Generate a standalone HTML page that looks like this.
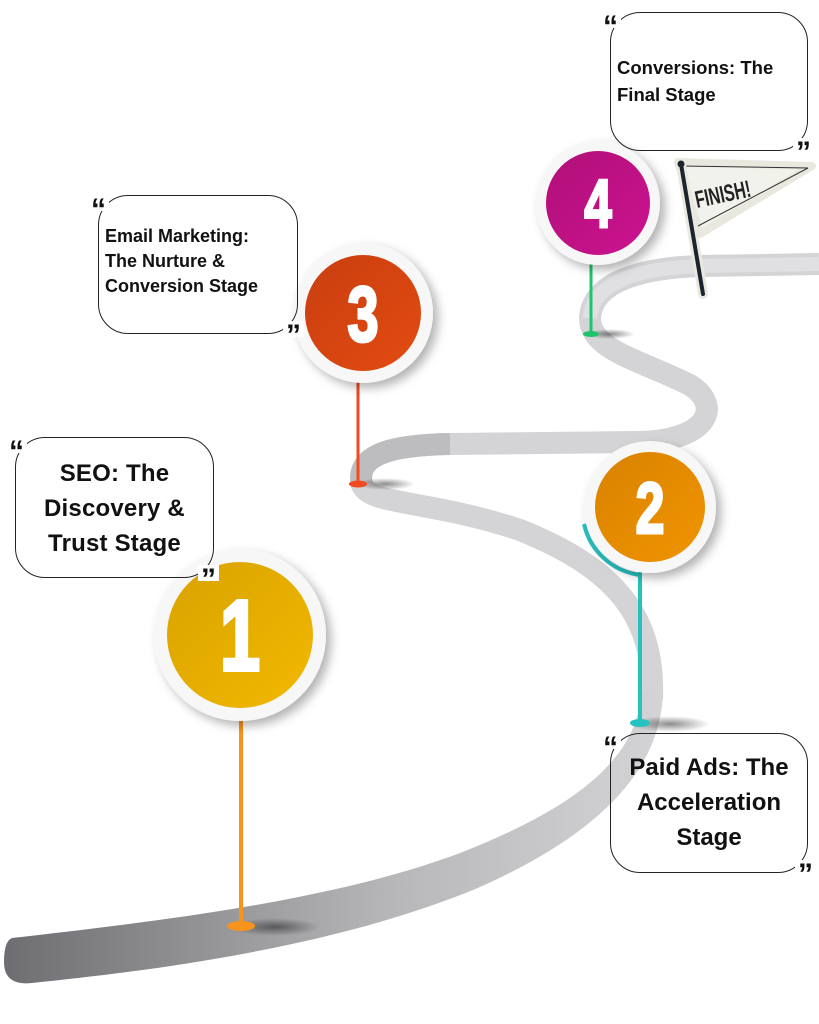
<!DOCTYPE html>
<html><head><meta charset="utf-8"><style>
html,body{margin:0;padding:0;background:#fff;}
body{width:819px;height:1024px;overflow:hidden;position:relative;font-family:"Liberation Sans",sans-serif;}
.box{position:absolute;border:1.6px solid #222;border-radius:30px;box-sizing:border-box;text-align:center;font-weight:bold;color:#111;}
.q{position:absolute;font-family:"Liberation Sans",sans-serif;font-weight:bold;font-size:30px;line-height:30px;height:16px;overflow:visible;background:#fff;color:#111;padding:0 3px;}
</style></head><body>
<svg width="819" height="1024" style="position:absolute;left:0;top:0">
<defs>
<linearGradient id="rg" x1="0" y1="0" x2="1" y2="0">
<stop offset="0" stop-color="#6e6e72"/><stop offset="0.6" stop-color="#b8b8ba"/><stop offset="1" stop-color="#d4d4d6"/></linearGradient>
<radialGradient id="sh"><stop offset="0" stop-color="#000" stop-opacity="0.45"/><stop offset="1" stop-color="#000" stop-opacity="0"/></radialGradient>
<filter id="ds" x="-30%" y="-30%" width="160%" height="160%"><feDropShadow dx="5" dy="5" stdDeviation="5" flood-opacity="0.3"/></filter>
<linearGradient id="g1" x1="0" y1="0" x2="1" y2="1"><stop offset="0" stop-color="#d9a300"/><stop offset="1" stop-color="#f2b800"/></linearGradient>
<linearGradient id="g2" x1="0" y1="0" x2="1" y2="1"><stop offset="0" stop-color="#d98200"/><stop offset="1" stop-color="#f09400"/></linearGradient>
<linearGradient id="g3" x1="0" y1="0" x2="1" y2="1"><stop offset="0" stop-color="#c93e10"/><stop offset="1" stop-color="#e24c10"/></linearGradient>
<linearGradient id="g4" x1="0" y1="0" x2="1" y2="1"><stop offset="0" stop-color="#b00f78"/><stop offset="1" stop-color="#cc1390"/></linearGradient>
</defs>
<path d="M652,700 C655,620 620,570 520,530 C430,500 370,505 362,485 C355,455 390,445 450,444 L640,442 C710,440 722,405 690,385 C640,360 590,350 590,318 C592,282 640,268 700,266 L819,264" stroke="#d4d4d6" stroke-width="22" fill="none"/>
<path d="M590,318 C592,282 640,268 700,266 L819,264" stroke="#e0e0e2" stroke-width="14" fill="none"/>
<path d="M362,485 C355,455 390,445 450,444" stroke="#bdbdbf" stroke-width="22" fill="none"/>
<path d="M12,938 C150,922 330,902 460,853 C570,810 640,760 641,690 L663,690 C662,775 590,838 480,887 C340,946 160,970 32,983 Q4,986 4,962 Q4,941 12,938 Z" fill="url(#rg)"/>
<ellipse cx="275" cy="927" rx="45" ry="9" fill="url(#sh)"/>
<ellipse cx="670" cy="724" rx="40" ry="8" fill="url(#sh)"/>
<ellipse cx="385" cy="484" rx="30" ry="6" fill="url(#sh)"/>
<ellipse cx="610" cy="334" rx="25" ry="5" fill="url(#sh)"/>
<line x1="241" y1="715" x2="241" y2="925" stroke="#f7941d" stroke-width="4"/>
<ellipse cx="241" cy="926" rx="14" ry="5" fill="#f7941d"/>
<line x1="640" y1="570" x2="640" y2="722" stroke="#27c1c1" stroke-width="4"/>
<ellipse cx="640" cy="723" rx="10" ry="4" fill="#27c1c1"/>
<line x1="358" y1="380" x2="358" y2="483" stroke="#f04a22" stroke-width="3"/>
<ellipse cx="358" cy="484" rx="9" ry="3.5" fill="#f04a22"/>
<line x1="591" y1="255" x2="591" y2="333" stroke="#1ec46a" stroke-width="3"/>
<ellipse cx="591" cy="334" rx="8" ry="3" fill="#1ec46a"/>
<g filter="url(#ds)"><circle cx="240" cy="635" r="86" fill="#f7f7f7"/></g>
<circle cx="240" cy="635" r="73" fill="url(#g1)"/>
<text x="0" y="0" font-family="Liberation Sans,sans-serif" font-weight="bold" font-size="100" fill="#fff" stroke="#fff" stroke-width="4" text-anchor="middle" transform="translate(240,670) scale(0.72,1)">1</text>
<path d="M584,524 A66,66 0 0 0 640,575" stroke="#27c1c1" stroke-width="4" fill="none"/>
<g filter="url(#ds)"><circle cx="650" cy="507" r="66" fill="#f7f7f7"/></g>
<circle cx="650" cy="507" r="55" fill="url(#g2)"/>
<text x="0" y="0" font-family="Liberation Sans,sans-serif" font-weight="bold" font-size="72" fill="#fff" stroke="#fff" stroke-width="3" text-anchor="middle" transform="translate(650,533) scale(0.72,1)">2</text>
<g filter="url(#ds)"><circle cx="363" cy="313" r="70" fill="#f7f7f7"/></g>
<circle cx="363" cy="313" r="58" fill="url(#g3)"/>
<text x="0" y="0" font-family="Liberation Sans,sans-serif" font-weight="bold" font-size="78" fill="#fff" stroke="#fff" stroke-width="3" text-anchor="middle" transform="translate(363,341) scale(0.72,1)">3</text>
<g filter="url(#ds)"><circle cx="598" cy="203" r="62" fill="#f7f7f7"/></g>
<circle cx="598" cy="203" r="52" fill="url(#g4)"/>
<text x="0" y="0" font-family="Liberation Sans,sans-serif" font-weight="bold" font-size="68" fill="#fff" stroke="#fff" stroke-width="3" text-anchor="middle" transform="translate(598,227) scale(0.72,1)">4</text>
<path d="M678,162 L812,166 L700,234 Z" fill="#f2f2ec" stroke="#e8e8de" stroke-width="8" stroke-linejoin="round"/>
<path d="M682,166 L808,168 L698,226" fill="none" stroke="#333" stroke-width="1"/>
<line x1="681" y1="164" x2="703" y2="294" stroke="#e9e9e0" stroke-width="10" stroke-linecap="round"/>
<line x1="681" y1="164" x2="703" y2="294" stroke="#1c2430" stroke-width="4" stroke-linecap="round"/>
<circle cx="681" cy="164" r="3.5" fill="#1c2430"/>
<text x="0" y="0" font-family="Liberation Sans,sans-serif" font-size="24" font-weight="bold" fill="#222" transform="translate(697,208) rotate(-12) scale(0.65,1)">FINISH!</text>
</svg>

<div class="box" style="left:15px;top:437px;width:199px;height:141px;font-size:24px;line-height:35px;padding-top:18px;letter-spacing:0.2px;">SEO: The<br>Discovery &amp;<br>Trust Stage</div>
<div class="q" style="left:6px;top:437px;">“</div>
<div class="q" style="left:198px;top:565px;">”</div>

<div class="box" style="left:98px;top:195px;width:200px;height:139px;font-size:18px;line-height:25px;padding-top:28px;text-align:left;padding-left:6px;white-space:nowrap;">Email Marketing:<br>The Nurture &amp;<br>Conversion Stage</div>
<div class="q" style="left:88px;top:195px;">“</div>
<div class="q" style="left:283px;top:321px;">”</div>

<div class="box" style="left:610px;top:12px;width:198px;height:139px;font-size:18.5px;line-height:27px;padding-top:41px;text-align:left;padding-left:6px;white-space:nowrap;">Conversions: The<br>Final Stage</div>
<div class="q" style="left:600px;top:12px;">“</div>
<div class="q" style="left:793px;top:138px;">”</div>

<div class="box" style="left:610px;top:733px;width:198px;height:140px;font-size:24px;line-height:35px;padding-top:16px;">Paid Ads: The<br>Acceleration<br>Stage</div>
<div class="q" style="left:600px;top:733px;">“</div>
<div class="q" style="left:795px;top:860px;">”</div>
</body></html>
